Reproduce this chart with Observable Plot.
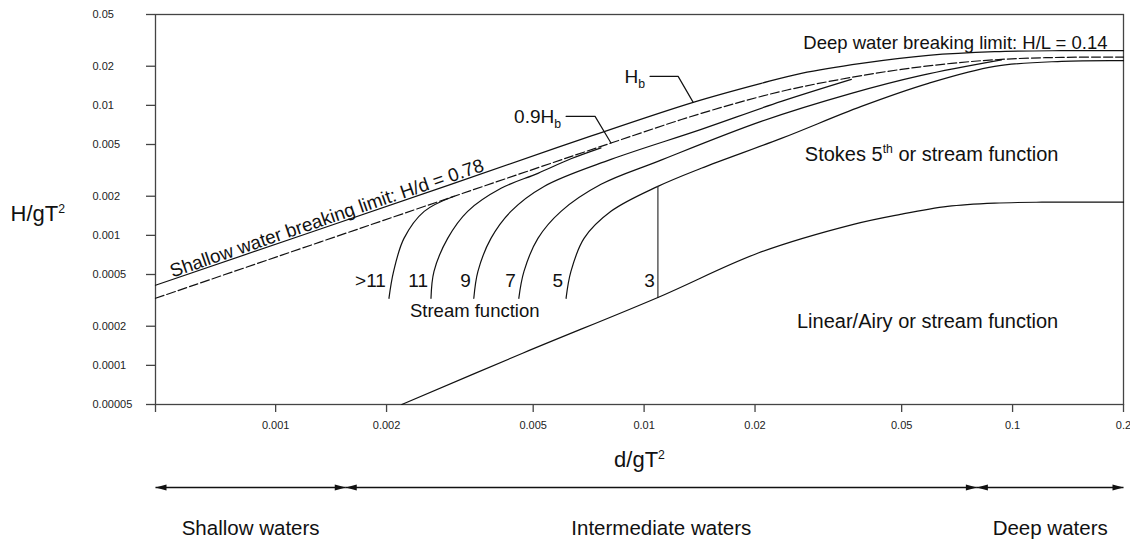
<!DOCTYPE html>
<html><head><meta charset="utf-8">
<script src="https://cdn.jsdelivr.net/npm/d3@7"></script>
<script src="https://cdn.jsdelivr.net/npm/@observablehq/plot@0.6"></script>
<style>
body{margin:0;background:#fff}
#chart{width:1130px;height:543px}
</style>
</head><body><div id="chart"></div>
<script>
// ---------- data ----------
const xDomain = [0.000472, 0.2];
const yDomain = [0.00005, 0.05];
const xTicks = [0.001, 0.002, 0.005, 0.01, 0.02, 0.05, 0.1, 0.2];
const yTicks = [0.00005, 0.0001, 0.0002, 0.0005, 0.001, 0.002, 0.005, 0.01, 0.02, 0.05];

// breaking limit Hb
const hbX = [0.000472, 0.00299, 0.00687, 0.01359, 0.02079, 0.02671, 0.03887, 0.0591, 0.0894, 0.1359, 0.2];
const hbY = [0.000413, 0.00247, 0.00557, 0.01055, 0.01477, 0.01763, 0.02104, 0.02424, 0.02589, 0.02635, 0.02635];
// 0.9 Hb (dashed)
const hb90X = [0.000472, 0.00299, 0.00813, 0.01429, 0.02357, 0.03652, 0.04993, 0.06828, 0.09336, 0.1359, 0.2];
const hb90Y = [0.000328, 0.00196, 0.00513, 0.00868, 0.01281, 0.01642, 0.01892, 0.02104, 0.02259, 0.0234, 0.02353];
// stream function order boundaries
const sfGt11X = [0.00203, 0.00209, 0.00223, 0.00253, 0.00305];
const sfGt11Y = [0.000328, 0.000528, 0.000948, 0.00153, 0.00200];
const sf11X = [0.00264, 0.00269, 0.00293, 0.00332, 0.00409, 0.00515, 0.00633, 0.00764];
const sf11Y = [0.000328, 0.000528, 0.000948, 0.00153, 0.00230, 0.00300, 0.00388, 0.00471];
const sf9X = [0.00345, 0.00354, 0.00384, 0.00435, 0.00535, 0.00813, 0.01429, 0.02357, 0.03652];
const sf9Y = [0.000328, 0.000528, 0.000948, 0.00153, 0.00238, 0.00384, 0.00654, 0.01073, 0.01585];
const sf7X = [0.00457, 0.00472, 0.00515, 0.00595, 0.00764, 0.0109, 0.02079, 0.03652, 0.05657, 0.09336];
const sf7Y = [0.000328, 0.000528, 0.000948, 0.00153, 0.00247, 0.00371, 0.00753, 0.01237, 0.01701, 0.02239];
const sf5X = [0.00614, 0.00633, 0.00687, 0.00813, 0.0109, 0.01429, 0.02357, 0.03887, 0.0591, 0.0894, 0.1359, 0.2];
const sf5Y = [0.000328, 0.000528, 0.000948, 0.00153, 0.00238, 0.00328, 0.00557, 0.00982, 0.01477, 0.01995, 0.0218, 0.02208];
const sfOrders = [">11", "11", "9", "7", "5"];
// order 3 separator (vertical)
const sf3X = [0.0109, 0.0109];
const sf3Y = [0.000333, 0.00238];
// linear / Airy limit
const linX = [0.0022, 0.00468, 0.0109, 0.0204, 0.037, 0.0496, 0.0666, 0.0894, 0.12, 0.2];
const linY = [0.00005, 0.000124, 0.000333, 0.000731, 0.001215, 0.00145, 0.00167, 0.00177, 0.0018, 0.0018];

// leaders for the Hb and 0.9Hb labels
const hbLeaderX = [0.01038, 0.01237, 0.01359];
const hbLeaderY = [0.01671, 0.01671, 0.01055];
const hb90LeaderX = [0.00614, 0.00736, 0.00813];
const hb90LeaderY = [0.00823, 0.00823, 0.00513];

// depth regions
const regionNames = ["Shallow waters", "Intermediate waters", "Deep waters"];
const regionStart = [0.000472, 0.00155, 0.08];
const regionEnd = [0.00155, 0.08, 0.2];

// region annotations (data coordinates)
const streamLabel = {x: 0.00347, y: 0.00026, text: "Stream function"};
const stokesLabel = {x: 0.0603, y: 0.0042, text: "Stokes 5^{th} or stream function"};
const airyLabel = {x: 0.0588, y: 0.000218, text: "Linear/Airy or stream function"};
const shallowLimitAt = {x: 0.000525, y: 0.000457};

// ---------- build ----------
const pts = (xs, ys) => xs.map((x, i) => ({x, y: ys[i]}));
const INK = "#111";
const sfSets = [[sfGt11X, sfGt11Y], [sf11X, sf11Y], [sf9X, sf9Y], [sf7X, sf7Y], [sf5X, sf5Y]];
const sfLabels = sfSets.map(([xs, ys], i) => ({x: xs[0], y: ys[0], text: sfOrders[i]}))
  .concat([{x: sf3X[0], y: sf3Y[0], text: "3"}]);
const regions = regionNames.map((name, i) => ({name, start: regionStart[i], end: regionEnd[i]}));
const yMin = yDomain[0];

const arrowHead = {draw(ctx) { ctx.moveTo(0, 0); ctx.lineTo(-11, -3); ctx.lineTo(-11, 3); ctx.closePath(); }};
const lineOpts = {x: "x", y: "y", curve: "catmull-rom", stroke: INK, strokeWidth: 1.2};

const chart = Plot.plot({
  width: 1130, height: 543,
  marginLeft: 155, marginRight: 7, marginTop: 14, marginBottom: 139,
  style: {fontFamily: "'Liberation Sans', Arial, sans-serif", fontSize: "11px", color: "#222", background: "#fff"},
  x: {type: "log", domain: xDomain},
  y: {type: "log", domain: yDomain},
  marks: [
    Plot.axisX({ticks: [xDomain[0], ...xTicks], tickFormat: () => "", tickSize: 8, label: null, stroke: "#444", strokeWidth: 1.3}),
    Plot.text(xTicks, {x: d => d, frameAnchor: "bottom", text: d => String(d), lineAnchor: "top", dy: 17, fontSize: 11, fill: "#222"}),
    Plot.axisY({ticks: yTicks, tickFormat: () => "", tickSize: 9, label: null, stroke: "#444", strokeWidth: 1.3}),
    Plot.text(yTicks, {y: d => d, frameAnchor: "left", text: d => String(d), textAnchor: "start", dx: -63, fontSize: 11, fill: "#222"}),
    Plot.frame({stroke: "#444", strokeWidth: 1.3}),
    Plot.line(pts(hbX, hbY), lineOpts),
    Plot.line(pts(hb90X, hb90Y), {...lineOpts, strokeDasharray: "9,3"}),
    ...sfSets.map(([xs, ys]) => Plot.line(pts(xs, ys), lineOpts)),
    Plot.line(pts(sf3X, sf3Y), {...lineOpts, curve: "linear", stroke: "#333"}),
    Plot.line(pts(linX, linY), lineOpts),
    Plot.line(pts(hbLeaderX, hbLeaderY), {x: "x", y: "y", stroke: INK, strokeWidth: 1.2}),
    Plot.line(pts(hb90LeaderX, hb90LeaderY), {x: "x", y: "y", stroke: INK, strokeWidth: 1.2}),
    Plot.text(sfLabels, {x: "x", y: "y", text: "text", textAnchor: "end", dx: -3, dy: -17, fontSize: 19, fill: INK}),
    Plot.text([streamLabel], {x: "x", y: "y", text: "text", fontSize: 18.5, fill: INK}),
    Plot.text([stokesLabel, airyLabel], {x: "x", y: "y", text: "text", fontSize: 20, fill: INK}),
    Plot.text(["H_{b}"], {x: () => hbLeaderX[0], y: () => hbLeaderY[0], text: d => d, textAnchor: "end", dx: -5, dy: 1, fontSize: 19, fill: INK}),
    Plot.text(["0.9H_{b}"], {x: () => hb90LeaderX[0], y: () => hb90LeaderY[0], text: d => d, textAnchor: "end", dx: -5, dy: 1, fontSize: 19, fill: INK}),
    Plot.text(["Shallow water breaking limit: H/d = 0.78"], {x: () => shallowLimitAt.x, y: () => shallowLimitAt.y, text: d => d,
      textAnchor: "start", lineAnchor: "bottom", rotate: -18.9, dy: -2, fontSize: 18.8, fill: INK}),
    Plot.text(["Deep water breaking limit: H/L = 0.14"], {frameAnchor: "top-right", text: d => d, textAnchor: "end", dx: -16, dy: 21, fontSize: 18.5, fill: INK}),
    Plot.text(["H/gT^{2}"], {frameAnchor: "left", text: d => d, textAnchor: "start", dx: -145, dy: 4, fontSize: 22, fill: INK}),
    Plot.text(["d/gT^{2}"], {frameAnchor: "bottom", text: d => d, dy: 62, fontSize: 22, fill: INK}),
    // depth-region arrows
    Plot.link(regions, {x1: "start", x2: "end", y1: () => yMin, y2: () => yMin, dy: 83, stroke: INK, strokeWidth: 1.3}),
    Plot.dot(regions, {x: "end", y: () => yMin, dy: 83, symbol: arrowHead, fill: INK, stroke: "none", r: 4}),
    Plot.dot(regions, {x: "start", y: () => yMin, dy: 83, symbol: arrowHead, rotate: 180, fill: INK, stroke: "none", r: 4}),
    Plot.text(regions, {x: d => Math.sqrt(d.start * d.end), y: () => yMin, dy: 124, text: "name", fontSize: 20.5, fill: INK})
  ]
});

// super/subscript markup -> tspans
chart.querySelectorAll("text").forEach(el => {
  const s = el.textContent;
  if (!/[\^_]\{/.test(s)) return;
  const fs = parseFloat(el.getAttribute("font-size")) || parseFloat(getComputedStyle(el).fontSize) || 18;
  const parts = s.split(/([\^_]\{[^}]*\})/).filter(p => p);
  el.textContent = "";
  let shift = 0;
  parts.forEach(p => {
    const t = document.createElementNS("http://www.w3.org/2000/svg", "tspan");
    let target = 0, txt = p;
    if (p.startsWith("^{")) { target = -0.42 * fs; txt = p.slice(2, -1); t.setAttribute("font-size", (0.68 * fs) + "px"); }
    else if (p.startsWith("_{")) { target = 0.28 * fs; txt = p.slice(2, -1); t.setAttribute("font-size", (0.68 * fs) + "px"); }
    if (target - shift !== 0) t.setAttribute("dy", target - shift);
    shift = target;
    t.textContent = txt;
    el.appendChild(t);
  });
});

document.getElementById("chart").appendChild(chart);
</script></body></html>
